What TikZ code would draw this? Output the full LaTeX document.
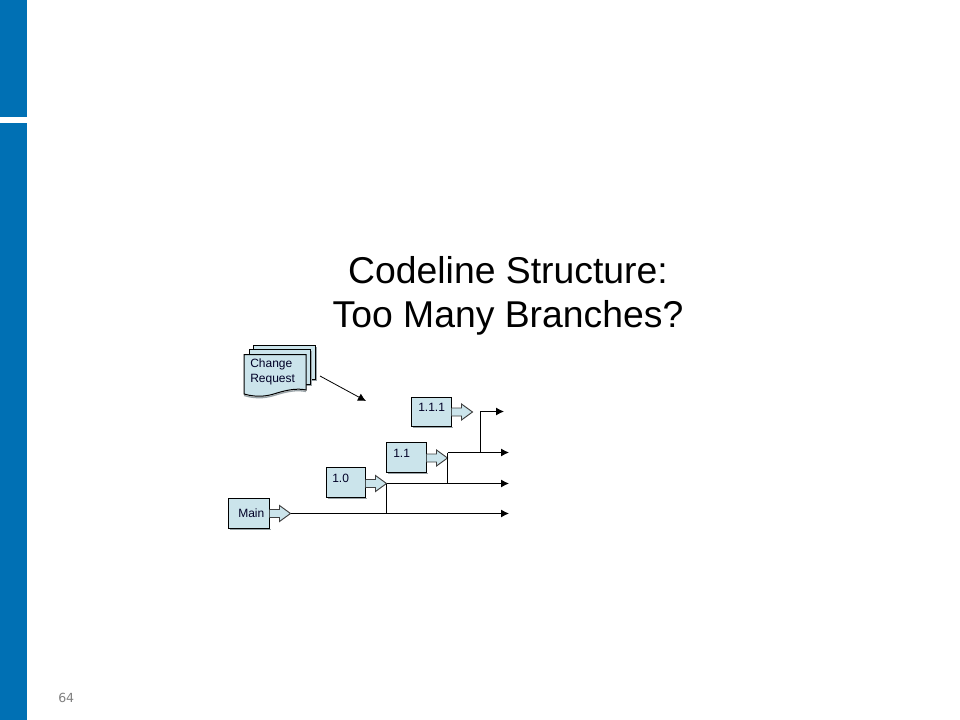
\documentclass[tikz,border=0pt]{standalone}
\usepackage{fontspec}
\setmainfont{Liberation Sans}
\newfontfamily\numfont{DejaVu Sans}
\usetikzlibrary{arrows.meta,calc}
\definecolor{barblue}{HTML}{0070B4}
\definecolor{boxfill}{HTML}{CBE4EB}
\definecolor{shadowgray}{HTML}{9AA4A8}
\tikzset{
  x=0.75pt,y=-0.75pt,
  bar/.style={fill=barblue,draw=none},
  vbox/.style={draw=black,fill=boxfill,line width=0.75pt,inner sep=0pt,outer sep=0pt,anchor=north west},
  vshadow/.style={draw=shadowgray,line width=0.9pt},
  vlabel/.style={anchor=base west,inner sep=0pt,font=\fontsize{9}{9}\selectfont,text=black!85!blue},
  vtip/.style={draw=black!75,fill=boxfill,line width=0.7pt,line join=miter},
  codeline/.style={draw=black,line width=0.75pt},
  flow/.style={codeline,-{Latex[length=6pt,width=6pt]}},
  doc/.style={draw=black,fill=boxfill,line width=0.75pt},
  title/.style={font=\fontsize{28}{33}\selectfont,align=center,inner sep=0pt,anchor=center,text=black},
}
% #1 name, #2 left, #3 top, #4 right, #5 bottom, #6 text x, #7 baseline, #8 text, #9 tip y
\newcommand{\versionbox}[9]{%
  \draw[vshadow] (#2+1,#5+1) -- (#4+1,#5+1);
  \node[vbox,minimum width={(#4-#2)*0.75pt},minimum height={(#5-#3)*0.75pt}] (#1) at (#2,#3) {};
  \node[vlabel] (#1label) at (#6,#7) {#8};
  \coordinate (#1tip) at (#4+21,#9);
  \draw[vtip] (#4,#9-4) -- (#4+10,#9-4) -- (#4+10,#9-8) -- (#1tip) -- (#4+10,#9+8) -- (#4+10,#9+4) -- (#4,#9+4);
}
\begin{document}
\begin{tikzpicture}
\useasboundingbox (0,0) rectangle (960,720);
\fill[white] (0,0) rectangle (960,720);
\fill[bar] (0,0) rectangle (27,117);
\fill[bar] (0,123) rectangle (27,720);

\node[title] (heading) at (508,295.5) {Codeline Structure:\\Too Many Branches?};
\node[anchor=base west,inner sep=0pt,text=black!50,font=\numfont\fontsize{9.4}{9.4}\selectfont] (pagenum) at (58,702) {64};

% change request stack
\fill[shadowgray] (255,347) rectangle (316.5,381);
\draw[doc] (253.5,345.5) rectangle (315.5,379.5);
\fill[shadowgray] (251,351) rectangle (311.5,386);
\draw[doc] (249.5,349.5) rectangle (310.5,384.5);
\draw[shadowgray,line width=1pt] (244,395.5) .. controls (258,399.5) and (268,397.5) .. (277,394.5) .. controls (287,391.5) and (297,389.5) .. (306,391.5);
\draw[doc] (244,354.5) -- (306,354.5) -- (306,390) .. controls (297,388) and (287,390) .. (277,393) .. controls (268,396) and (258,398) .. (244,394) -- cycle;
\node[vlabel] (change) at (250,367) {Change};
\node[vlabel] (request) at (250,382) {Request};
\coordinate (crstart) at (320,376);
\coordinate (crend) at (366,401);
\draw[draw=black,line width=0.6pt,-{Latex[length=6pt,width=6pt]}] (crstart) -- (crend);

% version boxes
\versionbox{main}{228.5}{498.5}{269.5}{528.5}{238}{517}{Main}{513.5}
\versionbox{vone}{326.5}{467.5}{365.5}{497.5}{332}{482}{1.0}{483.5}
\versionbox{vonei}{386.5}{442.5}{426.5}{472.5}{393}{457}{1.1}{458}
\versionbox{voneii}{411.5}{397.5}{451.5}{426.5}{418}{411}{1.1.1}{412}

% end points and junctions
\coordinate (mainend) at (509,513.5);
\coordinate (voneend) at (509,483.5);
\coordinate (voneiend) at (509,452.5);
\coordinate (voneiiend) at (504,411.5);
\coordinate (j1top) at (386.5,483.5);
\coordinate (j1bot) at (386.5,513.5);
\coordinate (j2top) at (447.5,452.5);
\coordinate (j2bot) at (447.5,483.5);
\coordinate (j3bot) at (480.5,452.5);
\coordinate (j3top) at (480.5,411.5);

\draw[flow] (maintip) -- (mainend);
\draw[flow] (j1top) -- (voneend);
\draw[flow] (j2top) -- (voneiend);
\draw[flow] (j3bot) -- (j3top) -- (voneiiend);
\draw[codeline] (j1top) -- (j1bot);
\draw[codeline] (j2top) -- (j2bot);
\end{tikzpicture}
\end{document}
